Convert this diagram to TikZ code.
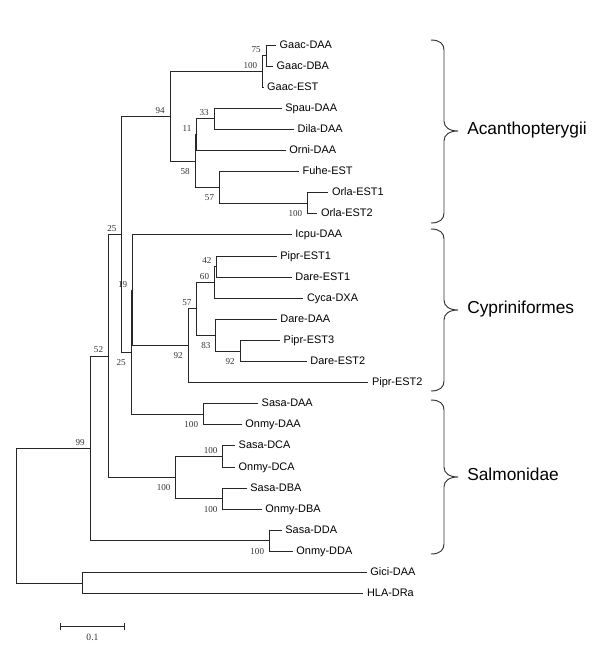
\documentclass[tikz,border=0pt]{standalone}
\usepackage{fontspec}
\setmainfont{Liberation Serif}
\newfontfamily\arialfont{Liberation Sans}
\usetikzlibrary{arrows.meta}

\begin{document}
\begin{tikzpicture}[
    x=0.75pt, y=-0.75pt,
    branch/.style={draw=black!85, line width=0.75pt},
    leaf/.style={anchor=mid west, inner xsep=2.8pt, inner ysep=0pt, outer sep=0pt, font=\arialfont\fontsize{8.2}{9}\selectfont},
    bsa/.style={anchor=south east, inner sep=0pt, xshift=-3.75pt, yshift=2pt, text=black!80, font=\fontsize{6.8}{7}\selectfont},
    bsb/.style={anchor=north east, inner sep=0pt, xshift=-3.75pt, yshift=-5.25pt, text=black!80, font=\fontsize{6.8}{7}\selectfont},
    cladename/.style={anchor=mid west, inner sep=0pt, font=\arialfont\fontsize{13}{15}\selectfont},
    bracepath/.style={draw=black!80, line width=0.7pt},
  ]
  \useasboundingbox (0,0) rectangle (600,672);

  \node[leaf] (gaacdaa) at (276,45.0) {Gaac-DAA};
  \node[leaf] (gaacdba) at (273,66.1) {Gaac-DBA};
  \node[leaf] (gaacest) at (263.5,87.2) {Gaac-EST};
  \node[leaf] (spaudaa) at (281.7,108.3) {Spau-DAA};
  \node[leaf] (diladaa) at (294,129.4) {Dila-DAA};
  \node[leaf] (ornidaa) at (285.7,150.5) {Orni-DAA};
  \node[leaf] (fuheest) at (299,171.6) {Fuhe-EST};
  \node[leaf] (orlaesta) at (328.3,192.7) {Orla-EST1};
  \node[leaf] (orlaestb) at (317.3,213.8) {Orla-EST2};
  \node[leaf] (icpudaa) at (291.7,234.9) {Icpu-DAA};
  \node[leaf] (pipresta) at (276.7,256.0) {Pipr-EST1};
  \node[leaf] (dareesta) at (291.7,277.1) {Dare-EST1};
  \node[leaf] (cycadxa) at (303.3,298.2) {Cyca-DXA};
  \node[leaf] (daredaa) at (276.7,319.3) {Dare-DAA};
  \node[leaf] (piprestc) at (280,340.4) {Pipr-EST3};
  \node[leaf] (dareestb) at (306.7,361.5) {Dare-EST2};
  \node[leaf] (piprestb) at (368.3,382.6) {Pipr-EST2};
  \node[leaf] (sasadaa) at (258,403.7) {Sasa-DAA};
  \node[leaf] (onmydaa) at (241.7,424.8) {Onmy-DAA};
  \node[leaf] (sasadca) at (235,445.9) {Sasa-DCA};
  \node[leaf] (onmydca) at (235,467.0) {Onmy-DCA};
  \node[leaf] (sasadba) at (246.7,488.1) {Sasa-DBA};
  \node[leaf] (onmydba) at (261.7,509.2) {Onmy-DBA};
  \node[leaf] (sasadda) at (281.7,530.3) {Sasa-DDA};
  \node[leaf] (onmydda) at (292.7,551.4) {Onmy-DDA};
  \node[leaf] (gicidaa) at (366.7,572.5) {Gici-DAA};
  \node[leaf] (hladra) at (363.3,593.6) {HLA-DRa};

  \coordinate (n75) at (266,55.5);
  \coordinate (n100a) at (262.5,71.4);
  \coordinate (n33) at (214,118.9);
  \coordinate (n11) at (196.7,134.7);
  \coordinate (n100b) at (307.5,203.3);
  \coordinate (n57a) at (219.3,187.4);
  \coordinate (n58) at (195,161);
  \coordinate (n94) at (170,116.2);
  \coordinate (n42) at (216.7,266.6);
  \coordinate (n60) at (214.3,282.4);
  \coordinate (n92b) at (240,351);
  \coordinate (n83) at (215.7,335.2);
  \coordinate (n57b) at (196.7,308.7);
  \coordinate (n92a) at (188,345.6);
  \coordinate (n19) at (132.5,290.3);
  \coordinate (n100c) at (203.3,414.3);
  \coordinate (n25b) at (131,352.3);
  \coordinate (n25a) at (121.7,234.3);
  \coordinate (n100d) at (222.7,456.5);
  \coordinate (n100e) at (222.7,498.7);
  \coordinate (n100f) at (175.7,477.6);
  \coordinate (n52) at (108.3,356);
  \coordinate (n100g) at (269.3,540.9);
  \coordinate (n99) at (90,448.4);
  \coordinate (nout) at (82.7,583);
  \coordinate (root) at (16,515.7);

  \draw[branch] (n75) |- (gaacdaa.mid west) (n75) |- (gaacdba.mid west);
  \draw[branch] (n100a) |- (n75) (n100a) |- (gaacest.mid west);
  \draw[branch] (n33) |- (spaudaa.mid west) (n33) |- (diladaa.mid west);
  \draw[branch] (n11) |- (n33) (n11) |- (ornidaa.mid west);
  \draw[branch] (n100b) |- (orlaesta.mid west) (n100b) |- (orlaestb.mid west);
  \draw[branch] (n57a) |- (fuheest.mid west) (n57a) |- (n100b);
  \draw[branch] (n58) |- (n11) (n58) |- (n57a);
  \draw[branch] (n94) |- (n100a) (n94) |- (n58);
  \draw[branch] (n42) |- (pipresta.mid west) (n42) |- (dareesta.mid west);
  \draw[branch] (n60) |- (n42) (n60) |- (cycadxa.mid west);
  \draw[branch] (n92b) |- (piprestc.mid west) (n92b) |- (dareestb.mid west);
  \draw[branch] (n83) |- (daredaa.mid west) (n83) |- (n92b);
  \draw[branch] (n57b) |- (n60) (n57b) |- (n83);
  \draw[branch] (n92a) |- (n57b) (n92a) |- (piprestb.mid west);
  \draw[branch] (n19) |- (icpudaa.mid west) (n19) |- (n92a);
  \draw[branch] (n100c) |- (sasadaa.mid west) (n100c) |- (onmydaa.mid west);
  \draw[branch] (n25b) |- (n19) (n25b) |- (n100c);
  \draw[branch] (n25a) |- (n94) (n25a) |- (n25b);
  \draw[branch] (n100d) |- (sasadca.mid west) (n100d) |- (onmydca.mid west);
  \draw[branch] (n100e) |- (sasadba.mid west) (n100e) |- (onmydba.mid west);
  \draw[branch] (n100f) |- (n100d) (n100f) |- (n100e);
  \draw[branch] (n52) |- (n25a) (n52) |- (n100f);
  \draw[branch] (n100g) |- (sasadda.mid west) (n100g) |- (onmydda.mid west);
  \draw[branch] (n99) |- (n52) (n99) |- (n100g);
  \draw[branch] (nout) |- (gicidaa.mid west) (nout) |- (hladra.mid west);
  \draw[branch] (root) |- (n99) (root) |- (nout);

  \node[bsa] (b75) at (n75) {75};
  \node[bsa] (b100a) at (n100a) {100};
  \node[bsa] (b94) at (n94) {94};
  \node[bsa] (b33) at (n33) {33};
  \node[bsa] (b11) at (n11) {11};
  \node[bsa] (b42) at (n42) {42};
  \node[bsa] (b60) at (n60) {60};
  \node[bsa] (b57b) at (n57b) {57};
  \node[bsa] (b25a) at (n25a) {25};
  \node[bsa] (b19) at (n19) {19};
  \node[bsa] (b52) at (n52) {52};
  \node[bsa] (b99) at (n99) {99};
  \node[bsa] (b100d) at (n100d) {100};
  \node[bsb] (b58) at (n58) {58};
  \node[bsb] (b57a) at (n57a) {57};
  \node[bsb] (b100b) at (n100b) {100};
  \node[bsb] (b92b) at (n92b) {92};
  \node[bsb] (b83) at (n83) {83};
  \node[bsb] (b92a) at (n92a) {92};
  \node[bsb] (b25b) at (n25b) {25};
  \node[bsb] (b100c) at (n100c) {100};
  \node[bsb] (b100e) at (n100e) {100};
  \node[bsb] (b100f) at (n100f) {100};
  \node[bsb] (b100g) at (n100g) {100};

  \draw[bracepath] (431,40) .. controls (440,40) and (444,44) .. (444,50) -- (444,121)
    .. controls (444,127) and (449,131) .. (458,131) .. controls (449,131) and (444,135) .. (444,141)
    -- (444,213) .. controls (444,219) and (440,223) .. (431,223);
  \draw[bracepath] (431,229) .. controls (440,229) and (444,233) .. (444,239) -- (444,300)
    .. controls (444,306) and (449,310) .. (458,310) .. controls (449,310) and (444,314) .. (444,320)
    -- (444,381) .. controls (444,387) and (440,391) .. (431,391);
  \draw[bracepath] (431,400) .. controls (440,400) and (444,404) .. (444,410) -- (444,467)
    .. controls (444,473) and (449,477) .. (458,477) .. controls (449,477) and (444,481) .. (444,487)
    -- (444,544) .. controls (444,550) and (440,554) .. (431,554);

  \node[cladename] (acanth) at (467,131) {Acanthopterygii};
  \node[cladename] (cypr) at (467,310) {Cypriniformes};
  \node[cladename] (salmo) at (467,477) {Salmonidae};

  \coordinate (sbl) at (60,626.7);
  \coordinate (sbr) at (125,626.7);
  \draw[branch, {Bar[width=5pt]}-{Bar[width=5pt]}] (sbl) -- (sbr);
  \node[inner sep=0pt, text=black!80, font=\fontsize{7.2}{8}\selectfont] (sbtext) at (92.5,637.7) {0.1};

\end{tikzpicture}
\end{document}
